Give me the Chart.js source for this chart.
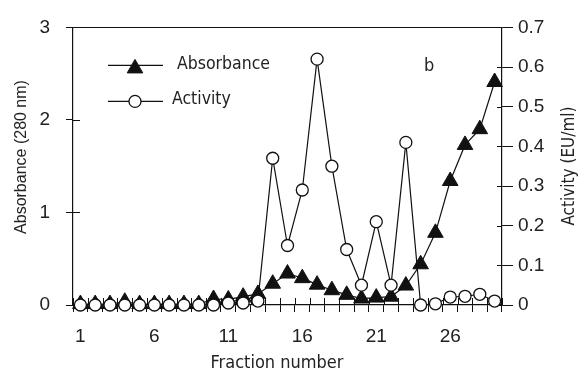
<!DOCTYPE html>
<html>
<head>
<meta charset="utf-8">
<script src="https://cdn.jsdelivr.net/npm/chart.js@4.4.1/dist/chart.umd.min.js"></script>
<style>
  html, body { margin: 0; padding: 0; background: #fff; }
</style>
</head>
<body>
<canvas id="fractionChart" width="580" height="372"></canvas>
<script>
// Elution profile: absorbance at 280 nm and enzyme activity per fraction
const fractions = [1, 2, 3, 4, 5, 6, 7, 8, 9, 10, 11, 12, 13, 14, 15,
                   16, 17, 18, 19, 20, 21, 22, 23, 24, 25, 26, 27, 28, 29];
const absorbance = [0.01, 0.01, 0.01, 0.035, 0.01, 0.01, 0.01, 0.01, 0.01, 0.065,
                    0.06, 0.09, 0.12, 0.23, 0.34, 0.29, 0.22, 0.16, 0.11, 0.07,
                    0.08, 0.09, 0.21, 0.44, 0.78, 1.34, 1.73, 1.90, 2.41];
const activity = [0, 0, 0, 0, 0, 0, 0, 0, 0, 0,
                  0.005, 0.005, 0.01, 0.37, 0.15, 0.29, 0.62, 0.35, 0.14, 0.05,
                  0.21, 0.05, 0.41, 0, 0.003, 0.02, 0.022, 0.027, 0.01];
const xTickLabels = ['1', '6', '11', '16', '21', '26'];

const INK = '#111';
const TEXT = '#222';
const tickFont = { family: '"Liberation Sans", Arial, sans-serif', size: 19 };
const labelFont = '"DejaVu Sans Condensed", "DejaVu Sans", sans-serif';

// Frame, inner tick stubs, legend, panel letter and axis titles
const decorations = {
    id: 'decorations',
    beforeDatasetsDraw(chart) {
        const { ctx, chartArea: a, scales } = chart;
        const px = v => Math.round(v) + 0.5;
        ctx.save();
        ctx.strokeStyle = INK;
        ctx.lineWidth = 1;
        ctx.beginPath();
        ctx.moveTo(a.left - 7, px(a.top));
        ctx.lineTo(a.right, px(a.top));
        for (let i = 0; i <= fractions.length; i++) {
            const x = px(scales.x.getPixelForValue(i - 0.5));
            ctx.moveTo(x, a.bottom);
            ctx.lineTo(x, a.bottom - 7);
        }
        scales.y.ticks.forEach(t => {
            const y = px(scales.y.getPixelForValue(t.value));
            ctx.moveTo(a.left, y);
            ctx.lineTo(a.left + 7, y);
        });
        scales.y1.ticks.forEach(t => {
            const y = px(scales.y1.getPixelForValue(t.value));
            ctx.moveTo(a.right, y);
            ctx.lineTo(a.right - 5, y);
        });
        ctx.stroke();
        ctx.restore();
    },
    afterDraw(chart) {
        const { ctx, chartArea: a, width } = chart;
        const sets = chart.data.datasets;
        ctx.save();

        // legend entries drawn inside the plot
        const rows = [
            { ds: sets[1], y: a.top + 38, textX: a.left + 104, textY: a.top + 42, markerY: a.top + 41 },
            { ds: sets[0], y: a.top + 74, textX: a.left + 99, textY: a.top + 77, markerY: a.top + 74 }
        ];
        rows.forEach(r => {
            ctx.strokeStyle = INK;
            ctx.lineWidth = r.ds.borderWidth;
            ctx.beginPath();
            ctx.moveTo(a.left + 35, r.y);
            ctx.lineTo(a.left + 90, r.y);
            ctx.stroke();
            ctx.fillStyle = r.ds.pointBackgroundColor;
            ctx.strokeStyle = r.ds.pointBorderColor;
            ctx.lineWidth = r.ds.pointBorderWidth;
            Chart.helpers.drawPoint(ctx, {
                pointStyle: r.ds.pointStyle,
                radius: r.ds.pointRadius,
                rotation: 0,
                borderWidth: r.ds.pointBorderWidth
            }, a.left + 62, r.markerY);
            ctx.fillStyle = TEXT;
            ctx.font = '17.5px ' + labelFont;
            ctx.textAlign = 'left';
            ctx.textBaseline = 'alphabetic';
            ctx.fillText(r.ds.label, r.textX, r.textY);
        });

        // panel letter
        ctx.font = '18px ' + labelFont;
        ctx.fillText('b', a.right - 78, a.top + 44);

        // axis titles
        ctx.fillStyle = TEXT;
        ctx.textAlign = 'center';
        ctx.font = '18px ' + labelFont;
        ctx.fillText('Fraction number', 277, 368);

        ctx.textBaseline = 'middle';
        ctx.save();
        ctx.translate(22, 157);
        ctx.rotate(-Math.PI / 2);
        ctx.font = '16px "Liberation Sans", Arial, sans-serif';
        ctx.fillText('Absorbance (280 nm)', 0, 0);
        ctx.restore();

        ctx.save();
        ctx.translate(width - 10, 166);
        ctx.rotate(-Math.PI / 2);
        ctx.font = '17px ' + labelFont;
        ctx.fillText('Activity (EU/ml)', 0, 0);
        ctx.restore();

        ctx.restore();
    }
};

const ctx = document.getElementById('fractionChart').getContext('2d');
new Chart(ctx, {
    type: 'line',
    data: {
        labels: fractions,
        datasets: [{
            label: 'Activity',
            data: activity,
            yAxisID: 'y1',
            borderColor: INK,
            borderWidth: 1.2,
            pointStyle: 'circle',
            pointRadius: 6,
            pointBackgroundColor: '#fff',
            pointBorderColor: INK,
            pointBorderWidth: 1.3,
            tension: 0,
            clip: false,
            order: 0
        }, {
            label: 'Absorbance',
            data: absorbance,
            yAxisID: 'y',
            borderColor: INK,
            borderWidth: 1.2,
            pointStyle: 'triangle',
            pointRadius: 9,
            pointBackgroundColor: INK,
            pointBorderColor: INK,
            pointBorderWidth: 1,
            tension: 0,
            clip: false,
            order: 1
        }]
    },
    options: {
        responsive: false,
        animation: false,
        devicePixelRatio: 1,
        layout: { padding: { top: 21, left: 0, right: 0, bottom: 0 } },
        plugins: {
            legend: { display: false },
            tooltip: { enabled: false }
        },
        scales: {
            x: {
                type: 'category',
                offset: true,
                grid: { offset: true, drawOnChartArea: false, tickLength: 7, color: INK, lineWidth: 1 },
                border: { color: INK, width: 1.2 },
                ticks: {
                    autoSkip: false,
                    maxRotation: 0,
                    padding: 13,
                    color: TEXT,
                    font: tickFont,
                    callback: function(value, index) {
                        const lbl = String(fractions[index]);
                        return xTickLabels.includes(lbl) ? lbl : '';
                    }
                },
                afterFit: s => { s.height = 67; }
            },
            y: {
                position: 'left',
                min: 0,
                max: 3,
                grid: { drawOnChartArea: false, tickLength: 7, color: INK, lineWidth: 1 },
                border: { color: INK, width: 1.2 },
                ticks: { stepSize: 1, padding: 16, color: TEXT, font: tickFont },
                afterFit: s => { s.width = 73; }
            },
            y1: {
                position: 'right',
                min: 0,
                max: 0.7,
                grid: { drawOnChartArea: false, tickLength: 11, color: INK, lineWidth: 1 },
                border: { color: INK, width: 1.2 },
                ticks: { stepSize: 0.1, padding: 5, color: TEXT, font: tickFont },
                afterFit: s => { s.width = 78; }
            }
        }
    },
    plugins: [decorations]
});
</script>
</body>
</html>
